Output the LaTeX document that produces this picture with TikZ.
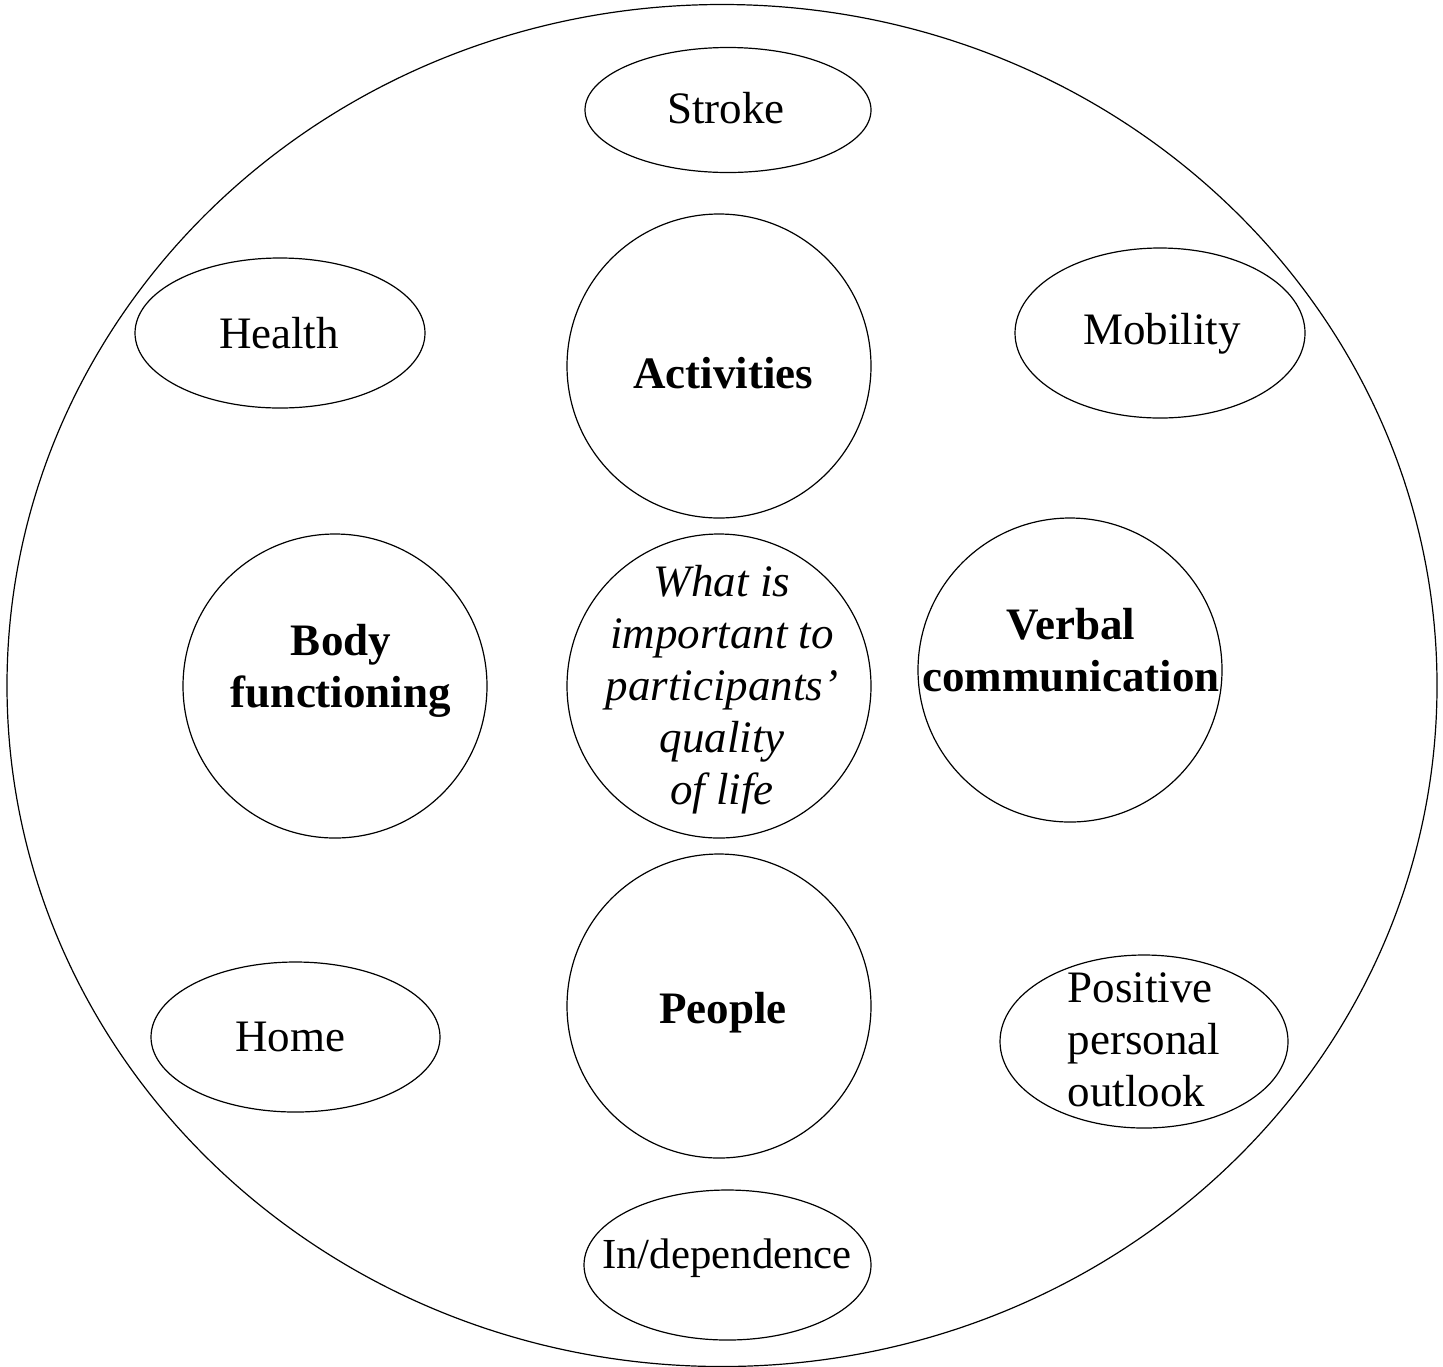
\documentclass[tikz,border=0pt]{standalone}
\usepackage{fontspec}
\setmainfont{Liberation Serif}
\usetikzlibrary{shapes.geometric}
\begin{document}
\begin{tikzpicture}[x=0.5pt,y=-0.5pt,
  every node/.style={font=\fontsize{22.5}{26}\selectfont, align=center, line width=0.6pt},
  oval/.style={draw, ellipse, inner sep=0pt},
  ring/.style={draw, circle, inner sep=0pt, minimum size=152pt},
  txt/.style={inner sep=0pt},
  bold/.style={font=\fontsize{22.5}{26}\selectfont\bfseries}]
\useasboundingbox (0,0) rectangle (1443,1366);
\node[draw, ellipse, minimum width=715pt, minimum height=681pt, inner sep=0pt, line width=0.6pt] (outer) at (722,685.5) {};
\node[oval, minimum width=143pt, minimum height=62.5pt] (stroke) at (728,110) {};
\node[txt] (strokeT) at (726,108) {Stroke};
\node[oval, minimum width=145pt, minimum height=75pt] (health) at (280,333) {};
\node[txt] (healthT) at (279,333) {Health};
\node[oval, minimum width=145pt, minimum height=85pt] (mobility) at (1160,333) {};
\node[txt] (mobilityT) at (1162,334) {Mobility};
\node[ring] (activities) at (719,366) {};
\node[txt, bold] (activitiesT) at (723,373) {Activities};
\node[ring] (body) at (335,686) {};
\node[txt, bold] (bodyT) at (341,671) {Body\\functioning};
\node[ring] (centre) at (719,686) {};
\node[txt, font=\fontsize{22.5}{26}\selectfont\itshape] (centreT) at (722,690) {What is\\important to\\participants'\\quality\\of life};
\node[ring] (verbal) at (1070,670) {};
\node[txt, bold] (verbalT) at (1071,650) {Verbal\\communication};
\node[ring] (people) at (719,1006) {};
\node[txt, bold] (peopleT) at (723,1013) {People};
\node[oval, minimum width=144.5pt, minimum height=75pt] (home) at (295.5,1037) {};
\node[txt] (homeT) at (290,1037) {Home};
\node[oval, minimum width=144pt, minimum height=86.5pt] (positive) at (1144,1041.5) {};
\node[txt, align=left, anchor=west] (positiveT) at (1067,1040) {Positive\\personal\\outlook};
\node[oval, minimum width=143.5pt, minimum height=75pt] (indep) at (727.5,1265) {};
\node[txt, font=\fontsize{21.4}{26}\selectfont] (indepT) at (727,1258) {In/dependence};
\end{tikzpicture}
\end{document}
